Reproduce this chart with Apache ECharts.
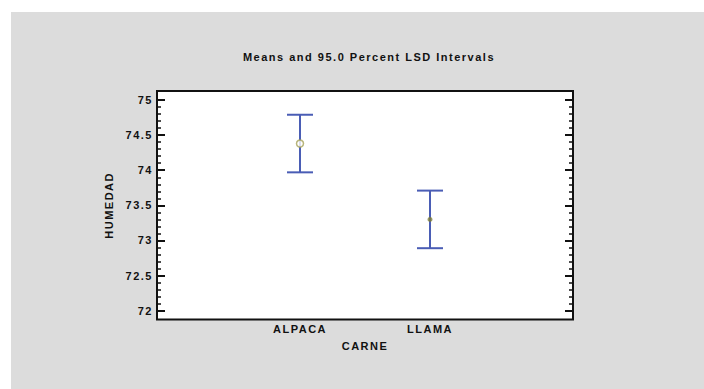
<!DOCTYPE html>
<html><head><meta charset="utf-8">
<script src="https://cdn.jsdelivr.net/npm/echarts@6/dist/echarts.min.js"></script>
<style>
html,body{margin:0;padding:0;background:#fff;}
#wrap{position:relative;width:704px;height:389px;overflow:hidden;}
#bg{position:absolute;left:11px;top:12px;right:0;bottom:0;background:#dcdcdc;}
#chart{position:absolute;left:0;top:0;width:704px;height:389px;}
#chart text{letter-spacing:1.5px;}
</style></head><body>
<div id="wrap"><div id="bg"></div><div id="chart"></div></div>
<script>
// ---- data ----
const categories = ['ALPACA', 'LLAMA'];
const means = [74.38, 73.30];
const lowerLimits = [73.97, 72.89];
const upperLimits = [74.79, 73.71];
const yTicks = [72, 72.5, 73, 73.5, 74, 74.5, 75];
const titleText = 'Means and 95.0 Percent LSD Intervals';
const xName = 'CARNE';
const yName = 'HUMEDAD';

// ---- chart ----
const FONT = "'Liberation Sans', Arial, sans-serif";
const INK = '#111';
const BAR = '#4a5db5';
const xMin = -1.1, xMax = categories.length + 0.1;
const yMin = yTicks[0], yMax = yTicks[yTicks.length - 1];
const yStep = yTicks[1] - yTicks[0];

function catLabel(v) {
  const i = Math.round(v);
  if (Math.abs(v - i) < 1e-6 && i >= 0 && i < categories.length) return categories[i];
  return '';
}

const chart = echarts.init(document.getElementById('chart'), null, { renderer: 'svg' });

const tickStyle = {
  axisLine: { show: false, onZero: false }, splitLine: { show: false },
  axisTick: { show: true, inside: true, length: 8, lineStyle: { color: INK, width: 2 } },
  minorTick: { show: true, splitNumber: 5, length: 4, lineStyle: { color: INK, width: 1.5 } },
  minorSplitLine: { show: false }
};

const option = {
  backgroundColor: 'transparent',
  animation: false,
  title: {
    text: titleText,
    left: 364, top: 46, textAlign: 'center',
    textStyle: { fontFamily: FONT, fontSize: 11, fontWeight: 'bold', color: INK }
  },
  grid: [
    { left: 157, top: 91, width: 416, height: 228.5, show: true, backgroundColor: '#fff',
      borderColor: INK, borderWidth: 2, containLabel: false },
    { left: 157, top: 100, width: 416, height: 210.7, containLabel: false }
  ],
  xAxis: [
    { type: 'value', gridIndex: 0, min: xMin, max: xMax, interval: 0.1,
      axisLine: { show: false, onZero: false }, axisTick: { show: false }, splitLine: { show: false },
      axisLabel: { formatter: catLabel, margin: 4, fontFamily: FONT, fontSize: 11, fontWeight: 'bold', color: INK, showMinLabel: true, showMaxLabel: true },
      name: xName, nameLocation: 'middle', nameGap: 21,
      nameTextStyle: { fontFamily: FONT, fontSize: 11, fontWeight: 'bold', color: INK } },
    { type: 'value', gridIndex: 1, min: xMin, max: xMax, show: false, axisLine: { onZero: false } }
  ],
  yAxis: [
    { type: 'value', gridIndex: 0, min: 0, max: 1, show: false, axisLine: { onZero: false } },
    Object.assign({ type: 'value', gridIndex: 1, min: yMin, max: yMax, interval: yStep, position: 'left',
      axisLabel: { margin: 4, fontFamily: FONT, fontSize: 11, fontWeight: 'bold', color: INK },
      name: yName, nameLocation: 'middle', nameGap: 43, nameRotate: 90,
      nameTextStyle: { fontFamily: FONT, fontSize: 11, fontWeight: 'bold', color: INK } }, tickStyle),
    Object.assign({ type: 'value', gridIndex: 1, min: yMin, max: yMax, interval: yStep, position: 'right',
      axisLabel: { show: false } }, tickStyle)
  ],
  series: [
    {
      type: 'custom', xAxisIndex: 1, yAxisIndex: 1,
      data: categories.map((c, i) => [i, lowerLimits[i], upperLimits[i]]),
      renderItem: function (params, api) {
        const x = api.value(0);
        const lo = api.coord([x, api.value(1)]);
        const hi = api.coord([x, api.value(2)]);
        const cap = 13;
        const style = { stroke: BAR, lineWidth: 2, fill: null };
        return {
          type: 'group',
          children: [
            { type: 'line', shape: { x1: lo[0], y1: lo[1], x2: hi[0], y2: hi[1] }, style },
            { type: 'line', shape: { x1: hi[0] - cap, y1: hi[1], x2: hi[0] + cap, y2: hi[1] }, style },
            { type: 'line', shape: { x1: lo[0] - cap, y1: lo[1], x2: lo[0] + cap, y2: lo[1] }, style }
          ]
        };
      },
      z: 2
    },
    {
      type: 'scatter', xAxisIndex: 1, yAxisIndex: 1, z: 3,
      data: categories.map((c, i) => (i === 0
        ? { value: [i, means[i]], symbol: 'circle', symbolSize: 7,
            itemStyle: { color: '#fff', borderColor: '#a6a35a', borderWidth: 1.5 } }
        : { value: [i, means[i]], symbol: 'circle', symbolSize: 5,
            itemStyle: { color: '#7d7d3a', borderWidth: 0 } }))
    }
  ]
};
chart.setOption(option);
</script>
</body></html>
